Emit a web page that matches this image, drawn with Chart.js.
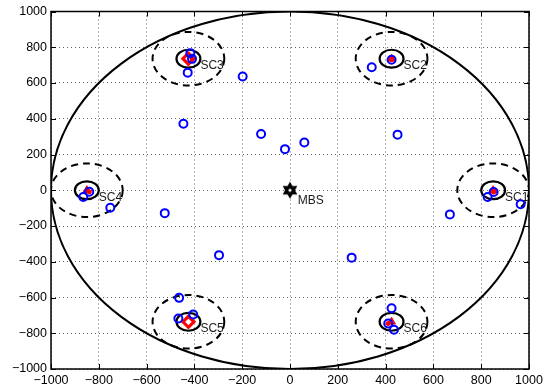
<!DOCTYPE html>
<html>
<head>
<meta charset="utf-8">
<script src="https://cdn.jsdelivr.net/npm/chart.js@4"></script>
<style>
  html, body { margin: 0; padding: 0; background: #fff; }
  canvas { display: block; }
</style>
</head>
<body>
<canvas id="c" width="558" height="391" style="width:558px;height:391px"></canvas>
<script>
// Axis ticks (metres) and their printed labels
const axisTicks = [-1000, -800, -600, -400, -200, 0, 200, 400, 600, 800, 1000];
const tickLabels = ['\u22121000', '\u2212800', '\u2212600', '\u2212400', '\u2212200', '0', '200', '400', '600', '800', '1000'];

// Macro base station
const mbsName = 'MBS';
const mbsX = [0];
const mbsY = [0];
const macroRadius = 1000;

// Small cells
const cellNames = ['SC1', 'SC2', 'SC3', 'SC4', 'SC5', 'SC6'];
const cellX = [850, 425, -425, -850, -425, 425];
const cellY = [0, 736, 736, 0, -736, -736];
const cellMarker = ['triangle', 'triangle', 'rectRot', 'triangle', 'rectRot', 'triangle'];
const cellRadius = 50;       // inner (solid) ring
const coverageRadius = 150;  // outer (dashed) ring

// User positions
const userX = [-428, -417, -410, -198, -446, -121, -21, 60, 450, 342, 425,
               -865, -840, -752, -524, 669, 827, 852, 965, -297, 258,
               -464, -467, -405, 425, 411, 435];
const userY = [658, 767, 735, 636, 372, 315, 230, 267, 311, 688, 730,
               -38, -8, -98, -128, -135, -38, -10, -78, -363, -377,
               -602, -717, -695, -660, -745, -780];

// Users served by a small cell
const servedX = [852, 425, -410, -840, 411];
const servedY = [-10, 730, 735, -8, -745];

const FONT = 'Liberation Sans, Arial, Helvetica, sans-serif';

// Hexagram marker for the macro base station
function hexagram(size) {
  const cv = document.createElement('canvas');
  cv.width = size; cv.height = size;
  const g = cv.getContext('2d');
  const c = size / 2, r = size / 2 - 0.5;
  g.fillStyle = '#000';
  for (const rot of [-Math.PI / 2, Math.PI / 2]) {
    g.beginPath();
    for (let k = 0; k < 3; k++) {
      const a = rot + k * 2 * Math.PI / 3;
      const px = c + r * Math.cos(a), py = c + r * Math.sin(a);
      if (k === 0) g.moveTo(px, py); else g.lineTo(px, py);
    }
    g.closePath();
    g.fill();
  }
  g.fillStyle = '#fff';
  g.beginPath(); g.arc(c, c, 1.6, 0, Math.PI * 2); g.fill();
  return cv;
}

const toPts = (xs, ys) => xs.map((v, i) => ({ x: v, y: ys[i] }));

const rings = {
  id: 'rings',
  beforeDatasetsDraw(chart) {
    const { ctx, chartArea: a, scales: { x, y } } = chart;
    const ell = (cx, cy, r) => {
      const px = x.getPixelForValue(cx), py = y.getPixelForValue(cy);
      const rx = Math.abs(x.getPixelForValue(cx + r) - px);
      const ry = Math.abs(y.getPixelForValue(cy + r) - py);
      ctx.beginPath();
      ctx.ellipse(px, py, rx, ry, 0, 0, Math.PI * 2);
      ctx.stroke();
    };
    ctx.save();
    ctx.beginPath(); ctx.rect(a.left, a.top, a.right - a.left, a.bottom - a.top); ctx.clip();
    ctx.strokeStyle = '#000';
    ctx.lineWidth = 2;
    ell(mbsX[0], mbsY[0], macroRadius);
    ctx.lineWidth = 2.2;
    cellX.forEach((cx, i) => ell(cx, cellY[i], cellRadius));
    // cell labels
    ctx.fillStyle = '#1a1a1a';
    ctx.font = '12px ' + FONT;
    ctx.textAlign = 'left';
    ctx.textBaseline = 'middle';
    cellNames.forEach((n, i) => {
      ctx.fillText(n, x.getPixelForValue(cellX[i] + 50), y.getPixelForValue(cellY[i] - 40));
    });
    ctx.fillText(mbsName, x.getPixelForValue(mbsX[0] + 32), y.getPixelForValue(mbsY[0] - 60));
    ctx.lineWidth = 2;
    ctx.setLineDash([7, 5]);
    cellX.forEach((cx, i) => ell(cx, cellY[i], coverageRadius));
    ctx.restore();
  },
  afterDraw(chart) {
    const { ctx, chartArea: a, scales: { x, y } } = chart;
    ctx.save();
    ctx.strokeStyle = '#000';
    ctx.lineWidth = 1;
    ctx.beginPath();
    axisTicks.forEach(v => {
      const px = Math.round(x.getPixelForValue(v)) + 0.5;
      ctx.moveTo(px, a.bottom); ctx.lineTo(px, a.bottom - 5);
      ctx.moveTo(px, a.top); ctx.lineTo(px, a.top + 5);
      const py = Math.round(y.getPixelForValue(v)) + 0.5;
      ctx.moveTo(a.left, py); ctx.lineTo(a.left + 5, py);
      ctx.moveTo(a.right, py); ctx.lineTo(a.right - 5, py);
    });
    ctx.stroke();
    ctx.lineWidth = 1.5;
    ctx.strokeRect(a.left, a.top, a.right - a.left, a.bottom - a.top);
    ctx.restore();
  }
};

const scaleOpts = (fitKey, fitVal) => ({
  type: 'linear',
  min: -1000,
  max: 1000,
  afterBuildTicks: s => { s.ticks = axisTicks.map(v => ({ value: v })); },
  afterFit: s => { s[fitKey] = fitVal; },
  grid: { color: '#666', lineWidth: 1, drawTicks: false },
  border: { display: false, dash: [1, 3] },
  ticks: {
    padding: 4,
    color: '#000',
    font: { family: FONT, size: 12.5 },
    callback: v => tickLabels[axisTicks.indexOf(v)]
  }
});

new Chart(document.getElementById('c'), {
  type: 'scatter',
  data: {
    datasets: [
      {
        data: toPts(userX, userY),
        pointStyle: 'circle', pointRadius: 4, pointBorderWidth: 2,
        borderColor: '#0000ff', backgroundColor: 'rgba(0,0,0,0)'
      },
      {
        data: toPts(servedX, servedY),
        pointStyle: 'circle', pointRadius: 2.5, pointBorderWidth: 0,
        borderColor: '#ff0000', backgroundColor: '#ff0000'
      },
      {
        data: toPts(cellX, cellY),
        pointStyle: cellMarker,
        pointRadius: cellMarker.map(m => m === 'rectRot' ? 5.5 : 4.5),
        pointBorderWidth: cellMarker.map(m => m === 'rectRot' ? 3.2 : 1),
        borderColor: '#ff0000',
        backgroundColor: cellMarker.map(m => m === 'rectRot' ? '#ffffff' : '#ff0000')
      },
      {
        data: toPts(mbsX, mbsY),
        pointStyle: hexagram(18), pointRadius: 8
      }
    ]
  },
  options: {
    responsive: false,
    devicePixelRatio: 1,
    animation: false,
    layout: { padding: { top: 6, right: 29, left: 0, bottom: 0 } },
    plugins: { legend: { display: false }, tooltip: { enabled: false } },
    scales: {
      x: scaleOpts('height', 22),
      y: scaleOpts('width', 51)
    }
  },
  plugins: [rings]
});
</script>
</body>
</html>
